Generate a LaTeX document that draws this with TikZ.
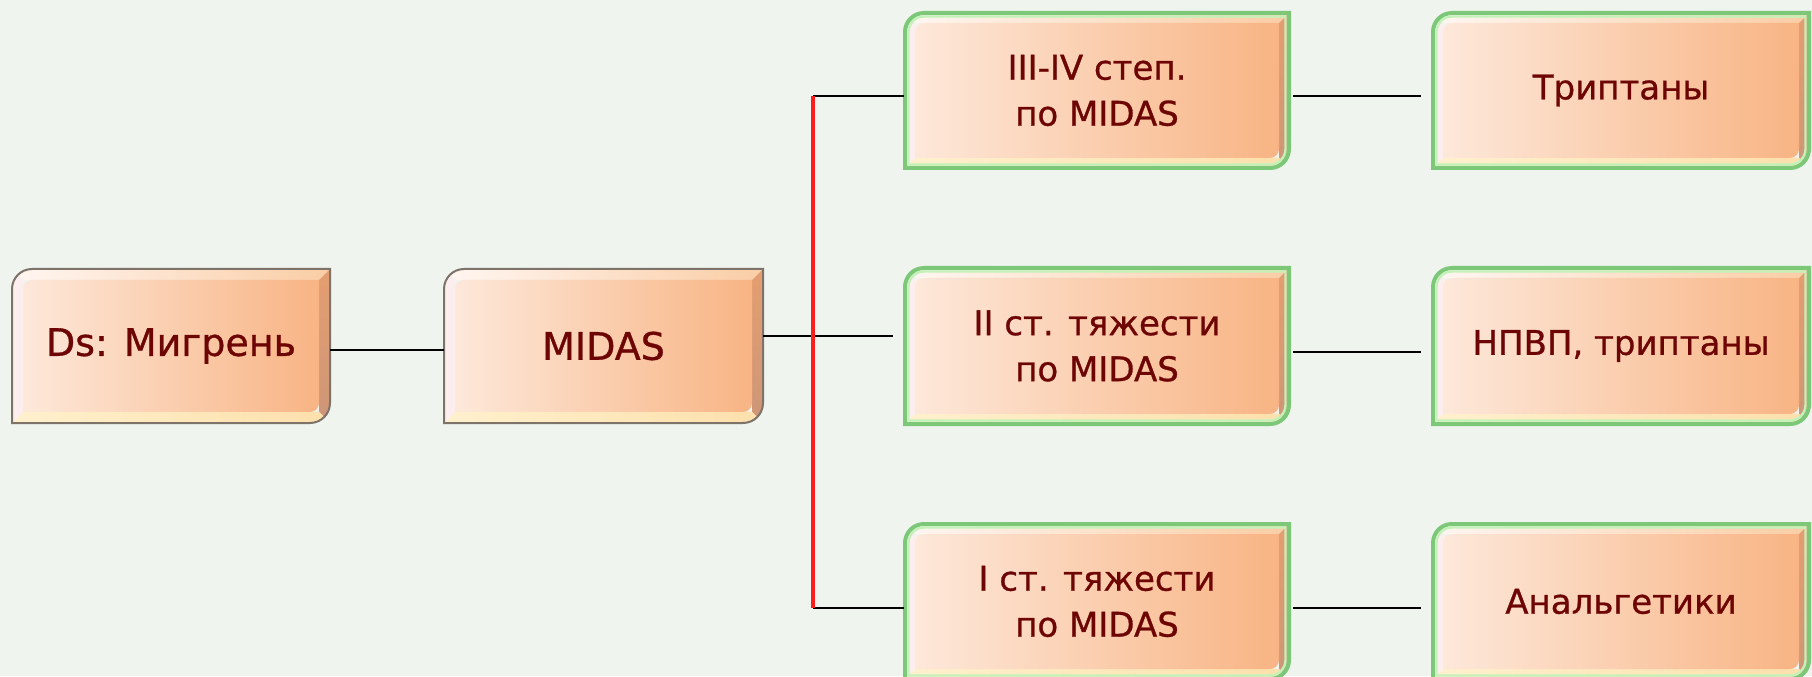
\documentclass[tikz,border=0pt]{standalone}
\usepackage{fontspec}
\setmainfont{DejaVu Sans}[FakeBold=0.8]
\usetikzlibrary{calc}
\definecolor{bg}{RGB}{239,244,238}
\definecolor{txt}{RGB}{110,5,5}
\definecolor{gOut}{RGB}{125,200,120}
\definecolor{gIn}{RGB}{195,242,185}
\definecolor{brd}{RGB}{125,115,105}
\definecolor{faceL}{RGB}{253,232,218}
\definecolor{faceM}{RGB}{252,208,145}
\definecolor{faceR}{RGB}{248,180,132}
\definecolor{bevTL}{RGB}{255,246,242}
\definecolor{bevTR}{RGB}{250,205,165}
\definecolor{bevR1}{RGB}{228,158,112}
\definecolor{bevR2}{RGB}{205,150,120}
\definecolor{bevBL}{RGB}{255,240,205}
\definecolor{bevBR}{RGB}{252,224,172}
\definecolor{bevL}{RGB}{252,238,238}
\definecolor{trunkred}{RGB}{250,30,30}
\tikzset{
  boxtext/.style={text=txt, align=center, inner sep=0pt, draw=none},
  fontbig/.style={font=\fontsize{19}{25}\selectfont},
  fontmid/.style={font=\fontsize{17}{23}\selectfont},
  conn/.style={draw=black, line width=1pt},
  trunk/.style={draw=trunkred, line width=2pt}
}
% path of the box outline, inset by #1 units
\newcommand\rpath[1]{(-\hw+#1,-\hh+#1) -- (-\hw+#1,\hh-20) arc[start angle=180,end angle=90,radius={(20-#1)*0.5pt}] -- (\hw-#1,\hh-#1) -- (\hw-#1,-\hh+20) arc[start angle=0,end angle=-90,radius={(20-#1)*0.5pt}] -- cycle}
\newcommand\borderA{\draw[brd, line width=1pt] \rpath{0};}
\newcommand\borderG{\draw[gOut, line width=2pt] \rpath{1}; \draw[gIn, line width=1.2pt] \rpath{4.5};}
% #1 name #2 cx #3 cy #4 w #5 h #6 border macro #7 font style #8 text
\newcommand\bevbox[8]{%
\begin{scope}[shift={(#2,#3)}]
  \pgfmathsetmacro\hw{#4/2}\pgfmathsetmacro\hh{#5/2}
  \begin{scope}
    \clip \rpath{0};
    \shade[left color=bevTL, right color=bevTR] (-\hw,\hh) -- (\hw,\hh) -- (\hw-11,\hh-11) -- (-\hw+11,\hh-11) -- cycle;
    \shade[top color=bevR1, bottom color=bevR2] (\hw,\hh) -- (\hw,-\hh) -- (\hw-11,-\hh+11) -- (\hw-11,\hh-11) -- cycle;
    \shade[left color=bevBL, right color=bevBR] (\hw,-\hh) -- (-\hw,-\hh) -- (-\hw+11,-\hh+11) -- (\hw-11,-\hh+11) -- cycle;
    \fill[bevL] (-\hw,-\hh) -- (-\hw,\hh) -- (-\hw+11,\hh-11) -- (-\hw+11,-\hh+11) -- cycle;
    \shade[left color=faceL, middle color=faceM, right color=faceR] \rpath{11};
  \end{scope}
  #6
\end{scope}
\node[boxtext, #7, minimum width={#4*0.5pt}, minimum height={#5*0.5pt}] (#1) at (#2,#3) {#8};
}
\begin{document}
\begin{tikzpicture}[x=0.5pt,y=0.5pt]
\fill[bg] (0,0) rectangle (1812,676);
\useasboundingbox (0,0) rectangle (1812,676);

\bevbox{A}{171}{330}{318}{154}{\borderA}{fontbig}{Ds: Мигрень}
\bevbox{B}{603.5}{330}{319}{154}{\borderA}{fontbig}{MIDAS}
\bevbox{C1}{1097}{585.5}{386}{157}{\borderG}{fontmid}{III-IV степ.\\по MIDAS}
\bevbox{C2}{1097}{330}{386}{158}{\borderG}{fontmid}{II ст. тяжести\\по MIDAS}
\bevbox{C3}{1097}{74.5}{386}{157}{\borderG}{fontmid}{I ст. тяжести\\по MIDAS}
\bevbox{D1}{1621}{585.5}{378}{157}{\borderG}{fontmid}{Триптаны}
\bevbox{D2}{1621}{330}{378}{158}{\borderG}{fontmid}{НПВП, триптаны}
\bevbox{D3}{1621}{74.5}{378}{157}{\borderG}{fontmid}{Анальгетики}

\coordinate (tTop) at (813,580);
\coordinate (tBot) at (813,68);

\draw[conn] ([yshift=-2pt]A.east) -- ([yshift=-2pt]B.west);
\draw[conn] ([yshift=5pt]B.east) -- ([xshift=-5.5pt,yshift=5pt]C2.west);
\draw[conn] (tTop) -- (tTop -| C1.west);
\draw[conn] (tBot) -- (tBot -| C3.west);
\draw[trunk] (tTop) -- (tBot);

\draw[conn] ([xshift=1.5pt,yshift=-2.75pt]C1.east) -- ([xshift=-5.5pt,yshift=-2.75pt]D1.west);
\draw[conn] ([xshift=1.5pt,yshift=-3pt]C2.east) -- ([xshift=-5.5pt,yshift=-3pt]D2.west);
\draw[conn] ([xshift=1.5pt,yshift=-3.25pt]C3.east) -- ([xshift=-5.5pt,yshift=-3.25pt]D3.west);
\end{tikzpicture}
\end{document}
